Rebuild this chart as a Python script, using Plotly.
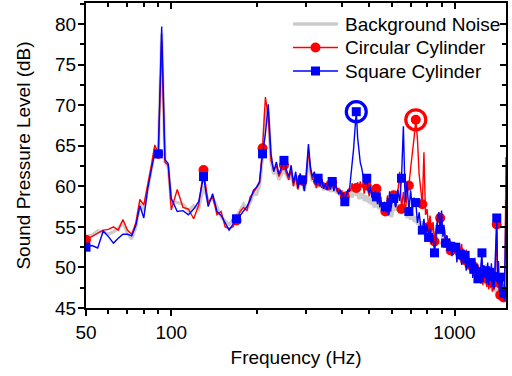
import math
import plotly.graph_objects as go

# ---------------- data ----------------
freq_a = [50 + 2.5 * i for i in range(21)]      # 50 .. 100 Hz
freq_b = [105 + 5 * i for i in range(30)]       # 105 .. 250 Hz
freq_c = [255 + 5 * i for i in range(70)]       # 255 .. 600 Hz
freq_d = [610 + 10 * i for i in range(92)]      # 610 .. 1520 Hz

circ_a = [53.4, 53.8, 54.2, 54.6, 54.7, 55.0, 54.6, 55.9, 54.6, 54.1, 55.5,
          58.4, 57.7, 60.0, 62.5, 65.1, 64.0, 78.0, 63.0, 62.6, 57.1]
squa_a = [52.5, 52.7, 52.4, 54.5, 53.8, 53.0, 53.6, 54.1, 54.1, 53.9, 55.2,
          57.6, 56.1, 59.6, 62.0, 64.2, 64.0, 79.7, 63.3, 62.8, 58.5]
back_a = [53.8, 54.0, 54.5, 54.4, 54.1, 54.4, 54.8, 55.6, 54.2, 53.5, 55.0,
          57.9, 57.0, 59.7, 62.2, 64.5, 64.2, 78.8, 63.0, 62.4, 58.0]

circ_b = [59.6, 57.4, 57.2, 56.0, 57.7, 62.0, 58.0, 58.7, 56.5, 56.9,
          55.0, 54.8, 55.0, 55.8, 56.9, 57.4, 57.0, 58.7, 59.2, 59.8,
          60.4, 64.7, 71.0, 68.5, 63.2, 62.0, 62.5, 61.2, 62.0, 62.6]
squa_b = [56.9, 57.0, 56.5, 57.2, 58.1, 61.2, 57.5, 59.1, 56.9, 56.4,
          55.5, 54.6, 55.3, 56.0, 56.4, 57.0, 57.5, 58.3, 59.5, 59.9,
          60.6, 64.0, 66.5, 70.1, 64.0, 61.8, 63.0, 61.5, 62.3, 63.2]
back_b = [58.0, 57.8, 57.0, 57.6, 57.2, 60.0, 58.2, 58.5, 57.5, 56.2,
          55.8, 55.3, 55.8, 56.4, 57.0, 57.8, 57.2, 58.0, 59.0, 59.0,
          60.0, 63.5, 69.5, 69.0, 63.0, 61.5, 62.0, 60.8, 61.5, 62.0]

circ_c = [61.6, 60.8, 62.0, 60.0, 61.2, 59.6, 61.0, 60.7, 59.8, 61.0,
          64.6, 62.0, 60.8, 61.5, 59.8, 60.6, 60.4, 59.8, 60.5, 59.6,
          60.6, 59.5, 60.2, 60.5, 59.6, 60.2, 59.3, 59.8, 59.0, 59.5,
          58.6, 58.7, 59.4, 58.9, 59.8, 59.4, 60.4, 59.6, 60.2, 59.8,
          60.5, 59.7, 60.6, 59.9, 60.3, 59.1, 60.0, 60.1, 59.4, 58.8,
          59.9, 59.0, 59.7, 58.4, 59.5, 59.7, 58.9, 58.2, 57.6, 58.7,
          57.1, 57.8, 56.9, 56.9, 57.5, 58.9, 57.6, 58.8, 57.4, 58.2]
squa_c = [62.0, 61.2, 62.6, 60.4, 61.8, 59.8, 61.6, 60.8, 59.4, 61.8,
          65.2, 62.4, 61.2, 61.8, 60.2, 61.0, 60.0, 60.9, 59.7, 60.4,
          59.5, 60.6, 59.6, 60.6, 59.4, 60.2, 59.7, 59.0, 59.6, 58.7,
          59.2, 58.1, 58.9, 59.6, 59.3, 61.6, 62.8, 64.5, 66.8, 69.2,
          66.0, 64.4, 62.9, 62.3, 61.4, 61.2, 60.2, 61.0, 59.6, 59.2,
          60.1, 58.6, 59.3, 58.4, 59.4, 58.7, 57.8, 58.9, 57.4, 58.2,
          57.6, 56.9, 58.1, 57.5, 56.8, 58.6, 56.4, 59.4, 56.9, 57.8]
back_c = [61.4, 60.8, 61.9, 60.1, 61.2, 59.7, 60.9, 60.4, 59.5, 61.0,
          63.6, 61.7, 60.6, 61.3, 59.8, 60.5, 59.9, 60.6, 59.5, 60.2,
          59.6, 60.4, 59.3, 60.2, 59.3, 60.0, 59.1, 59.8, 58.8, 59.5,
          58.7, 59.3, 58.6, 59.2, 59.0, 59.5, 58.6, 59.3, 60.0, 58.8,
          59.4, 58.4, 59.2, 58.5, 59.1, 58.2, 58.9, 58.1, 58.8, 57.9,
          58.6, 57.7, 58.4, 57.4, 58.3, 57.4, 58.0, 57.2, 57.9, 57.1,
          57.7, 56.8, 57.5, 56.6, 57.3, 56.5, 57.2, 56.3, 57.0, 56.2]

circ_d = [58.9, 57.5, 59.0, 61.8, 57.2, 59.3, 56.8, 59.0, 60.1, 62.2,
          63.8, 66.0, 68.2, 65.8, 61.5, 59.2, 57.8, 64.2, 56.5, 57.2,
          55.0, 56.4, 54.3, 55.6, 53.2, 54.7, 55.3, 56.8, 56.1, 55.3,
          54.2, 55.0, 53.0, 54.0, 52.6, 53.5, 52.1, 53.2, 51.5, 52.7,
          52.3, 51.1, 53.0, 50.9, 51.8, 52.9, 50.6, 51.9, 50.9, 52.2,
          50.1, 51.3, 50.3, 49.8, 51.0, 49.3, 50.1, 48.9, 50.4, 48.6,
          49.5, 48.2, 49.8, 48.0, 49.1, 47.8, 49.5, 48.1, 48.7, 47.6,
          49.2, 47.3, 48.4, 47.5, 49.0, 47.0, 48.1, 47.2, 48.6, 52.5,
          55.3, 47.5, 48.6, 46.8, 46.6, 47.9, 46.4, 47.0, 46.3, 46.2,
          52.0, 63.6]
squa_d = [58.5, 57.4, 59.6, 58.2, 61.0, 67.4, 58.0, 60.5, 56.9, 59.5,
          57.2, 58.6, 58.0, 55.5, 56.8, 55.0, 54.6, 56.0, 54.2, 55.3,
          53.7, 54.8, 52.9, 54.0, 51.8, 53.6, 55.9, 56.8, 54.7, 57.0,
          53.8, 54.9, 53.0, 53.9, 52.4, 53.6, 52.6, 51.4, 53.0, 51.9,
          52.5, 50.6, 52.8, 51.2, 51.6, 50.3, 52.1, 50.5, 51.5, 49.6,
          51.8, 50.0, 50.6, 49.2, 51.0, 48.7, 49.8, 51.2, 48.6, 50.4,
          48.6, 50.0, 48.9, 50.9, 51.8, 48.2, 50.3, 48.7, 49.6, 48.0,
          50.6, 47.8, 49.4, 48.3, 50.5, 47.6, 48.9, 47.4, 49.5, 53.0,
          56.1, 48.0, 50.8, 47.2, 48.8, 46.9, 49.3, 47.5, 46.8, 45.9,
          52.0, 58.3]
back_d = [57.7, 57.0, 57.8, 56.7, 57.4, 57.9, 57.2, 56.1, 56.9, 55.9,
          56.7, 55.6, 56.3, 55.3, 56.0, 55.0, 55.7, 54.7, 55.4, 54.4,
          55.1, 54.1, 54.7, 53.8, 54.4, 53.5, 55.2, 55.9, 54.0, 54.8,
          53.3, 53.9, 52.9, 53.6, 52.6, 53.3, 52.3, 53.0, 52.0, 52.7,
          51.7, 52.4, 51.4, 52.1, 52.8, 51.8, 50.8, 51.5, 50.5, 51.2,
          50.3, 51.0, 50.0, 50.7, 49.7, 50.4, 49.4, 50.1, 49.2, 49.9,
          48.9, 49.6, 48.7, 49.4, 48.4, 49.1, 48.2, 48.9, 47.9, 50.4,
          47.7, 48.4, 47.5, 48.2, 47.3, 48.0, 47.1, 47.8, 46.9, 47.6,
          49.4, 47.4, 46.6, 47.3, 46.5, 47.1, 46.4, 47.0, 46.3, 46.9,
          46.5, 47.9]

freq = freq_a + freq_b + freq_c + freq_d
circular = circ_a + circ_b + circ_c + circ_d
square = squa_a + squa_b + squa_c + squa_d
background = back_a + back_b + back_c + back_d

series_names = ["Background Noise", "Circular Cylinder", "Square Cylinder"]

marker_freqs = [50 + 40 * k for k in range(37)]   # symbols every 40 Hz
circled_square_freq = 450
circled_circular_freq = 730

x_ticks = [50, 100, 1000]
x_minor = [60, 70, 80, 90, 200, 300, 400, 500, 600, 700, 800, 900]

# ---------------- figure ----------------
FONT = "Liberation Sans, Arial, sans-serif"
RED = "#ff0000"
BLUE = "#0000ff"
GRAY = "#cccccc"

W, H = 512, 376
ML, MR, MT, MB = 86, 6, 3, 68
PW, PH = W - ML - MR, H - MT - MB

mk_idx = [i for i, f in enumerate(freq) if any(abs(f - m) < 1e-6 for m in marker_freqs)]
mx = [freq[i] for i in mk_idx]

fig = go.Figure()
fig.add_trace(go.Scatter(x=freq, y=background, mode="lines", name=series_names[0],
                         line=dict(color=GRAY, width=3.2)))
fig.add_trace(go.Scatter(x=freq, y=circular, mode="lines", name=series_names[1],
                         line=dict(color=RED, width=1.4)))
fig.add_trace(go.Scatter(x=mx, y=[circular[i] for i in mk_idx], mode="markers",
                         marker=dict(color=RED, symbol="circle", size=10)))
fig.add_trace(go.Scatter(x=freq, y=square, mode="lines", name=series_names[2],
                         line=dict(color=BLUE, width=1.4)))
fig.add_trace(go.Scatter(x=mx, y=[square[i] for i in mk_idx], mode="markers",
                         marker=dict(color=BLUE, symbol="square", size=9)))

# highlight rings
i_sq = freq.index(circled_square_freq)
i_ci = freq.index(circled_circular_freq)
fig.add_trace(go.Scatter(x=[freq[i_sq]], y=[square[i_sq]], mode="markers",
                         marker=dict(symbol="circle-open", size=20, color=BLUE,
                                     line=dict(width=3.2, color=BLUE))))
fig.add_trace(go.Scatter(x=[freq[i_ci]], y=[circular[i_ci]], mode="markers",
                         marker=dict(symbol="circle-open", size=20, color=RED,
                                     line=dict(width=3.2, color=RED))))

# dummy for the mirrored (top / right) axes
fig.add_trace(go.Scatter(x=[None], y=[None], xaxis="x2", yaxis="y2"))

# ---- hand-built legend (tighter row spacing than plotly's legend) ----
def px_x(p):
    return (p - ML) / PW

def px_y(p):
    return (H - MB - p) / PH

rows_y = [24, 47.5, 71]
line_x0, line_x1, sym_x, text_x = 293, 338, 315.5, 343
styles = [(GRAY, 3.5, None), (RED, 1.4, "circle"), (BLUE, 1.4, "square")]
shapes, annotations = [], []
for name, yy, (col, lw, sym) in zip(series_names, rows_y, styles):
    shapes.append(dict(type="line", xref="paper", yref="paper",
                       x0=px_x(line_x0), x1=px_x(line_x1), y0=px_y(yy), y1=px_y(yy),
                       line=dict(color=col, width=lw)))
    if sym == "circle":
        r = 5
        shapes.append(dict(type="circle", xref="paper", yref="paper",
                           x0=px_x(sym_x - r), x1=px_x(sym_x + r),
                           y0=px_y(yy + r), y1=px_y(yy - r),
                           fillcolor=col, line=dict(color=col, width=0)))
    elif sym == "square":
        r = 4.5
        shapes.append(dict(type="rect", xref="paper", yref="paper",
                           x0=px_x(sym_x - r), x1=px_x(sym_x + r),
                           y0=px_y(yy + r), y1=px_y(yy - r),
                           fillcolor=col, line=dict(color=col, width=0)))
    annotations.append(dict(text=name, xref="paper", yref="paper",
                            x=px_x(text_x), y=px_y(yy), xanchor="left", yanchor="middle",
                            showarrow=False, font=dict(family=FONT, size=19, color="black")))

xr = [math.log10(50), math.log10(1520)]
yr = [45, 82.6]

fig.update_layout(
    width=W, height=H,
    margin=dict(l=ML, r=MR, t=MT, b=MB, autoexpand=False),
    paper_bgcolor="white", plot_bgcolor="white",
    font=dict(family=FONT, size=19, color="black"),
    showlegend=False,
    shapes=shapes, annotations=annotations,
    xaxis=dict(type="log", range=xr, showgrid=False, zeroline=False, automargin=False,
               showline=True, linecolor="black", linewidth=2,
               ticks="outside", ticklen=6, tickwidth=2, tickcolor="black",
               tickmode="array", tickvals=x_ticks, ticktext=[str(v) for v in x_ticks],
               tickfont=dict(family=FONT, size=19, color="black"),
               minor=dict(tickmode="array", tickvals=x_minor, ticks="outside",
                          ticklen=4, tickwidth=2, tickcolor="black", showgrid=False),
               title=dict(text="Frequency (Hz)", font=dict(family=FONT, size=19), standoff=9)),
    yaxis=dict(range=yr, showgrid=False, zeroline=False, automargin=False,
               showline=True, linecolor="black", linewidth=2,
               ticks="outside", ticklen=6, tickwidth=2, tickcolor="black",
               tick0=45, dtick=5, ticklabelstandoff=-2,
               tickfont=dict(family=FONT, size=19, color="black"),
               minor=dict(dtick=2.5, tick0=45, ticks="outside", ticklen=4,
                          tickwidth=2, tickcolor="black", showgrid=False),
               title=dict(text="Sound Pressure Level (dB)", font=dict(family=FONT, size=19), standoff=19)),
    xaxis2=dict(type="log", range=xr, overlaying="x", side="top", anchor="y2", automargin=False,
                showgrid=False, zeroline=False, showline=True, linecolor="black", linewidth=2,
                ticks="inside", ticklen=6, tickwidth=2, tickcolor="black",
                tickmode="array", tickvals=x_ticks, showticklabels=False,
                minor=dict(tickmode="array", tickvals=x_minor, ticks="inside",
                           ticklen=4, tickwidth=2, tickcolor="black", showgrid=False)),
    yaxis2=dict(range=yr, overlaying="y", side="right", anchor="x2", automargin=False,
                showgrid=False, zeroline=False, showline=True, linecolor="black", linewidth=2,
                ticks="inside", ticklen=6, tickwidth=2, tickcolor="black",
                tick0=45, dtick=5, showticklabels=False,
                minor=dict(dtick=2.5, tick0=45, ticks="inside", ticklen=4,
                           tickwidth=2, tickcolor="black", showgrid=False)),
)

fig.write_html("out.html", config={"displayModeBar": False},
               post_script="document.body.style.margin='0';document.body.style.overflow='hidden';")
